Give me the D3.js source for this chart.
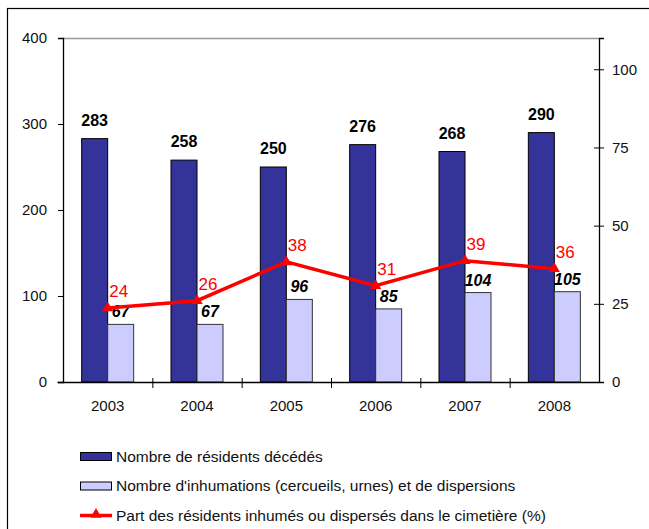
<!DOCTYPE html>
<html>
<head>
<meta charset="utf-8">
<script src="https://cdn.jsdelivr.net/npm/d3@7"></script>
<style>
  body { margin: 0; background: #fff; }
  text { font-family: "Liberation Sans", Arial, sans-serif; }
</style>
</head>
<body>
<div id="chart"></div>
<script>
// DATA
var years = ["2003", "2004", "2005", "2006", "2007", "2008"];
var deces = [283, 258, 250, 276, 268, 290];
var inhumations = [67, 67, 96, 85, 104, 105];
var part = [23.7, 26.0, 38.4, 30.8, 38.8, 36.2];
var leftTicks = [0, 100, 200, 300, 400];
var rightTicks = [0, 25, 50, 75, 100];
var legendLabels = [
    "Nombre de résidents décédés",
    "Nombre d'inhumations (cercueils, urnes) et de dispersions",
    "Part des résidents inhumés ou dispersés dans le cimetière (%)"
];

var width = 649, height = 529;
var margin = {top: 38, left: 63, right: 50, bottom: 147};
var c_width = width - margin.left - margin.right;   // 536
var c_height = height - margin.top - margin.bottom; // 344

var darkColor = "#333399", lightColor = "#CCCCFF", red = "#FF0000";

var svg = d3.select("#chart").append("svg")
    .attr("width", width)
    .attr("height", height);

// outer frame
svg.append("rect")
    .attr("x", 7.5).attr("y", 8.5)
    .attr("width", 700).attr("height", 600)
    .attr("fill", "none").attr("stroke", "#000").attr("stroke-width", 1.2);

var g = svg.append("g").attr("transform", "translate(" + margin.left + "," + margin.top + ")");

var x = d3.scaleBand().domain(years).range([0, c_width]);
var bw = x.bandwidth();
var xs = d3.scaleBand().domain(["deces", "inhum"]).range([bw / 2 - 26, bw / 2 + 26]);
var yL = d3.scaleLinear().domain([0, 400]).range([c_height, 0]);
var yR = d3.scaleLinear().domain([0, 110]).range([c_height, 0]);

// plot area top border
g.append("line")
    .attr("x1", 0).attr("x2", c_width)
    .attr("y1", 0.5).attr("y2", 0.5)
    .attr("stroke", "#999").attr("stroke-width", 1.5);

var rows = years.map(function (y, i) {
    return {year: y, deces: deces[i], inhum: inhumations[i], part: part[i]};
});

// bars
var serie = g.selectAll(".serie").data(rows).enter().append("g")
    .attr("class", "serie")
    .attr("transform", function (d) { return "translate(" + x(d.year) + ",0)"; });

serie.append("rect")
    .attr("x", xs("deces"))
    .attr("y", function (d) { return yL(d.deces); })
    .attr("width", xs.bandwidth())
    .attr("height", function (d) { return c_height - yL(d.deces); })
    .attr("fill", darkColor).attr("stroke", "#000").attr("stroke-width", 1);

serie.append("rect")
    .attr("x", xs("inhum"))
    .attr("y", function (d) { return yL(d.inhum); })
    .attr("width", xs.bandwidth())
    .attr("height", function (d) { return c_height - yL(d.inhum); })
    .attr("fill", lightColor).attr("stroke", "#333").attr("stroke-width", 1);

serie.append("text")
    .attr("x", xs("deces") + xs.bandwidth() / 2)
    .attr("y", function (d) { return yL(d.deces) - 13; })
    .attr("text-anchor", "middle")
    .attr("font-size", 16).attr("font-weight", "bold")
    .text(function (d) { return d.deces; });

serie.append("text")
    .attr("x", xs("inhum") + xs.bandwidth() / 2)
    .attr("y", function (d) { return yL(d.inhum) - 7; })
    .attr("text-anchor", "middle")
    .attr("font-size", 16).attr("font-weight", "bold").attr("font-style", "italic")
    .text(function (d) { return d.inhum; });

// axes
var yaxis = g.append("g")
    .call(d3.axisLeft(yL).tickValues(leftTicks).tickSize(5).tickPadding(11));

var yaxisR = g.append("g")
    .attr("transform", "translate(" + c_width + ",0)")
    .call(d3.axisRight(yR).tickValues(rightTicks).tickSize(5).tickPadding(8));
yaxisR.selectAll(".tick line").attr("x1", -5);

var xaxis = g.append("g")
    .attr("transform", "translate(0," + c_height + ")")
    .call(d3.axisBottom(x).tickSize(0).tickPadding(18));
xaxis.select(".domain").attr("d", "M-5.5,0.5H" + c_width);

xaxis.selectAll(".sep").data(years.slice(1)).enter().append("line")
    .attr("class", "sep")
    .attr("x1", function (d) { return x(d) + 0.5; })
    .attr("x2", function (d) { return x(d) + 0.5; })
    .attr("y1", -4).attr("y2", 6)
    .attr("stroke", "#000");

g.selectAll(".domain").attr("stroke", "#000").attr("stroke-width", 1.3);
g.selectAll(".tick line").attr("stroke", "#000");
g.selectAll(".tick text").attr("font-size", 15).attr("fill", "#111")
    .attr("font-family", "'Liberation Sans', Arial, sans-serif");

// red line
var line = d3.line()
    .x(function (d) { return x(d.year) + bw / 2; })
    .y(function (d) { return yR(d.part); });

g.append("path").datum(rows)
    .attr("d", line)
    .attr("fill", "none").attr("stroke", red).attr("stroke-width", 3.5);

g.selectAll(".mark").data(rows).enter().append("path")
    .attr("class", "mark")
    .attr("transform", function (d) { return "translate(" + (x(d.year) + bw / 2) + "," + yR(d.part) + ")"; })
    .attr("d", d3.symbol(d3.symbolTriangle).size(55))
    .attr("fill", red);

g.selectAll(".plabel").data(rows).enter().append("text")
    .attr("class", "plabel")
    .attr("x", function (d) { return x(d.year) + bw / 2 + 11; })
    .attr("y", function (d) { return yR(d.part) - 11; })
    .attr("text-anchor", "middle")
    .attr("font-size", 17).attr("fill", red)
    .text(function (d) { return Math.round(d.part); });

// legend
var legend = svg.append("g").attr("transform", "translate(80,452)");
var items = legend.selectAll(".item").data(legendLabels).enter().append("g")
    .attr("class", "item")
    .attr("transform", function (d, i) { return "translate(0," + (i * 29.5) + ")"; });

items.filter(function (d, i) { return i < 2; }).append("rect")
    .attr("x", 0.5).attr("y", 0.5)
    .attr("width", 31).attr("height", 8)
    .attr("fill", function (d, i) { return i === 0 ? darkColor : lightColor; })
    .attr("stroke", "#000");

var lineItem = items.filter(function (d, i) { return i === 2; });
lineItem.append("line")
    .attr("x1", 0).attr("x2", 32).attr("y1", 4.5).attr("y2", 4.5)
    .attr("stroke", red).attr("stroke-width", 3.5);
lineItem.append("path")
    .attr("transform", "translate(16,3.5)")
    .attr("d", d3.symbol(d3.symbolTriangle).size(55))
    .attr("fill", red);

items.append("text")
    .attr("x", 36).attr("y", 9.5)
    .attr("font-size", 15.5).attr("fill", "#111")
    .text(function (d) { return d; });
</script>
</body>
</html>
